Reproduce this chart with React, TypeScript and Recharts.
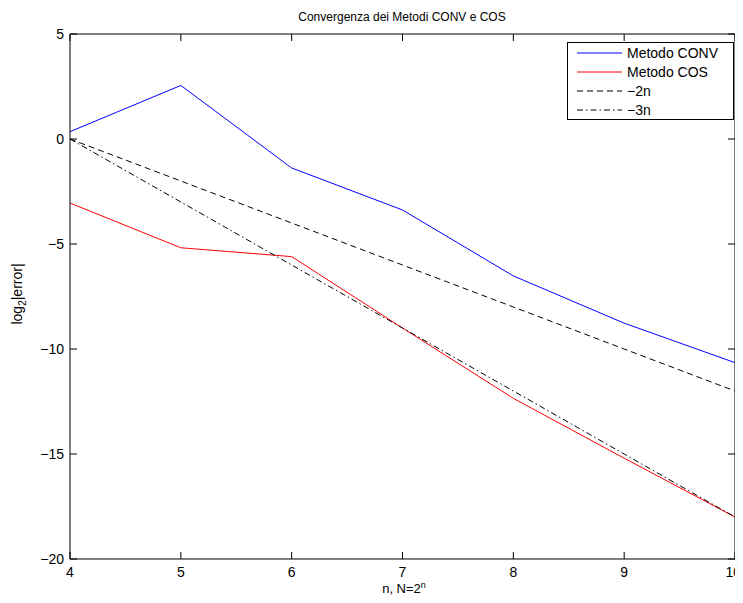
import React from "react";
import { LineChart, Line, XAxis, YAxis } from "recharts";

const nValues = [4, 5, 6, 7, 8, 9, 10];
const convErr = [0.35, 2.55, -1.38, -3.38, -6.52, -8.77, -10.65];
const cosErr = [-3.05, -5.18, -5.6, -9.0, -12.35, -15.2, -18.0];
const ref2n = [0, -2, -4, -6, -8, -10, -12];
const ref3n = [0, -3, -6, -9, -12, -15, -18];
const xTicks = [4, 5, 6, 7, 8, 9, 10];
const yTicks = [-20, -15, -10, -5, 0, 5];

const data = nValues.map((n, i) => ({
  n,
  conv: convErr[i],
  cos: cosErr[i],
  r2: ref2n[i],
  r3: ref3n[i],
}));

const FONT = "'Liberation Sans', Arial, Helvetica, sans-serif";
const TICK = 7;
const fmt = (v: number) => (v < 0 ? "\u2212" + Math.abs(v) : String(v));

const BottomTick = (props: any) => {
  const { x, y, payload } = props;
  const last = payload.value === xTicks[xTicks.length - 1];
  return (
    <g>
      <line x1={x} x2={x} y1={y} y2={y - TICK} stroke="#000" strokeWidth={1} />
      <text
        x={last ? x + 6 : x}
        y={y + 18}
        textAnchor={last ? "end" : "middle"}
        fontSize={14}
        fontFamily={FONT}
        fill="#000"
      >
        {fmt(payload.value)}
      </text>
    </g>
  );
};
const TopTick = (props: any) => {
  const { x, y } = props;
  return <line x1={x} x2={x} y1={y} y2={y + TICK} stroke="#000" strokeWidth={1} />;
};
const LeftTick = (props: any) => {
  const { x, y, payload } = props;
  return (
    <g>
      <line x1={x} x2={x + TICK} y1={y} y2={y} stroke="#000" strokeWidth={1} />
      <text x={x - 6} y={y + 5} textAnchor="end" fontSize={14} fontFamily={FONT} fill="#000">
        {fmt(payload.value)}
      </text>
    </g>
  );
};
const RightTick = (props: any) => {
  const { x, y } = props;
  return <line x1={x} x2={x - TICK} y1={y} y2={y} stroke="#000" strokeWidth={1} />;
};

const legendItems = [
  { label: "Metodo CONV", color: "#0000ff", dash: "none" },
  { label: "Metodo COS", color: "#ff0000", dash: "none" },
  { label: "\u22122n", color: "#000000", dash: "6 4" },
  { label: "\u22123n", color: "#000000", dash: "6 3 1.5 3" },
];

const LegendBox = () => (
  <svg width={167} height={78} style={{ display: "block" }}>
    <rect x={0.5} y={0.5} width={166} height={77} fill="#fff" stroke="#000" strokeWidth={1} />
    {legendItems.map((it, i) => {
      const cy = 11 + i * 19;
      return (
        <g key={it.label}>
          <line x1={10} x2={55} y1={cy} y2={cy} stroke={it.color} strokeWidth={1} strokeDasharray={it.dash} />
          <text x={60} y={cy + 5} fontSize={14} fontFamily={FONT} fill="#000">
            {it.label}
          </text>
        </g>
      );
    })}
  </svg>
);

export default function App() {
  return (
    <div style={{ position: "relative", width: 735, height: 587 }}>
      <LineChart
        width={735}
        height={587}
        data={data}
        margin={{ top: 25, right: 7, bottom: 35, left: 61 }}
      >
        <XAxis
          xAxisId="b"
          dataKey="n"
          type="number"
          domain={[4, 10]}
          ticks={xTicks}
          orientation="bottom"
          height={1}
          tickSize={0}
          tickMargin={0}
          tickLine={false}
          tick={<BottomTick />}
          stroke="#000"
          interval={0}
          allowDataOverflow
        />
        <XAxis
          xAxisId="t"
          dataKey="n"
          type="number"
          domain={[4, 10]}
          ticks={xTicks}
          orientation="top"
          height={1}
          tickSize={0}
          tickMargin={0}
          tickLine={false}
          tick={<TopTick />}
          stroke="#000"
          interval={0}
          allowDataOverflow
        />
        <YAxis
          yAxisId="l"
          type="number"
          domain={[-20, 5]}
          ticks={yTicks}
          orientation="left"
          width={1}
          tickSize={0}
          tickMargin={0}
          tickLine={false}
          tick={<LeftTick />}
          stroke="#000"
          interval={0}
          allowDataOverflow
        />
        <YAxis
          yAxisId="r"
          type="number"
          domain={[-20, 5]}
          ticks={yTicks}
          orientation="right"
          width={1}
          tickSize={0}
          tickMargin={0}
          tickLine={false}
          tick={<RightTick />}
          stroke="#000"
          interval={0}
          allowDataOverflow
        />
        <Line xAxisId="b" yAxisId="l" dataKey="conv" stroke="#0000ff" strokeWidth={1} dot={false} isAnimationActive={false} />
        <Line xAxisId="b" yAxisId="l" dataKey="cos" stroke="#ff0000" strokeWidth={1} dot={false} isAnimationActive={false} />
        <Line xAxisId="b" yAxisId="l" dataKey="r2" stroke="#000" strokeWidth={1} strokeDasharray="6 4" dot={false} isAnimationActive={false} />
        <Line xAxisId="b" yAxisId="l" dataKey="r3" stroke="#000" strokeWidth={1} strokeDasharray="6 3 1.5 3" dot={false} isAnimationActive={false} />
        <text x={394} y={13} textAnchor="middle" fontSize={12} fontFamily={FONT} fill="#000">
          Convergenza dei Metodi CONV e COS
        </text>
        <text x={396} y={585} textAnchor="middle" fontSize={13} fontFamily={FONT} fill="#000">
          n, N=2<tspan dy={-5} fontSize={9}>n</tspan>
        </text>
        <text
          transform="translate(14,286) rotate(-90)"
          textAnchor="middle"
          fontSize={14}
          fontFamily={FONT}
          fill="#000"
        >
          log<tspan dy={4} fontSize={10}>2</tspan>
          <tspan dy={-4}>|error|</tspan>
        </text>
      </LineChart>
      <div style={{ position: "absolute", left: 559, top: 34 }}>
        <LegendBox />
      </div>
    </div>
  );
}
